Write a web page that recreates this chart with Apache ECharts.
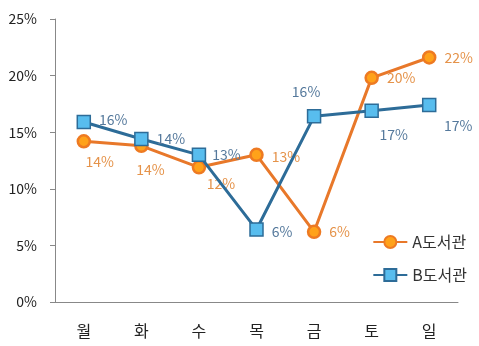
<!DOCTYPE html>
<html>
<head>
<meta charset="utf-8">
<script src="https://cdn.jsdelivr.net/npm/echarts@6/dist/echarts.min.js"></script>
<style>
  html, body { margin: 0; padding: 0; background: #fff; }
  #chart { width: 479px; height: 346px; }
</style>
</head>
<body>
<div id="chart"></div>
<script>
let days = ['월', '화', '수', '목', '금', '토', '일'];
let libraryA = [14.2, 13.8, 11.9, 13.0, 6.2, 19.8, 21.6];
let libraryB = [15.9, 14.4, 13.0, 6.4, 16.4, 16.9, 17.4];
let labelPosA = ['bottom', 'bottom', 'bottom', 'right', 'right', 'right', 'right'];
let labelPosB = ['right', 'right', 'right', 'right', 'top', 'bottom', 'bottom'];

const font = '"Noto Sans CJK KR", "Noto Sans", sans-serif';

function makeData(values, positions, offsets) {
    return values.map((v, i) => ({
        value: v,
        label: { position: positions[i], offset: offsets[i] }
    }));
}

let offA = [[16, -2], [9, 2], [22, -6], [0, 2], [0, 0], [0, 0], [0, 0]];
let offB = [[0, -2], [0, 0], [-2, 0], [0, 2], [-8, -2], [22, 2], [29, -2]];

let option = {
    animation: false,
    grid: { left: 55, right: 21, top: 19, bottom: 44 },
    legend: {
        orient: 'vertical',
        right: 7,
        top: 229,
        itemWidth: 34,
        itemHeight: 15,
        itemGap: 17,
        textStyle: { fontFamily: font, fontSize: 16, color: '#333' },
        data: ['A도서관', 'B도서관']
    },
    xAxis: {
        type: 'category',
        data: days,
        axisLine: { lineStyle: { color: '#888' } },
        axisTick: { alignWithLabel: false, length: 5, lineStyle: { color: '#888' } },
        axisLabel: { color: '#222', fontFamily: font, fontSize: 16, margin: 21 }
    },
    yAxis: {
        type: 'value',
        min: 0,
        max: 25,
        interval: 5,
        splitLine: { show: false },
        axisLine: { show: true, lineStyle: { color: '#888' } },
        axisTick: { show: true, length: 5, lineStyle: { color: '#888' } },
        axisLabel: { color: '#222', fontFamily: font, fontSize: 14, margin: 18, formatter: '{value}%' }
    },
    series: [
        {
            name: 'A도서관',
            type: 'line',
            data: makeData(libraryA, labelPosA, offA),
            symbol: 'circle',
            symbolSize: 12,
            lineStyle: { color: '#E8782A', width: 3 },
            itemStyle: { color: '#FFA21A', borderColor: '#EE7A22', borderWidth: 2.5 },
            label: {
                show: true,
                color: '#E5934A',
                fontFamily: font,
                fontSize: 14,
                distance: 8,
                formatter: p => Math.round(p.value) + '%'
            },
            z: 2
        },
        {
            name: 'B도서관',
            type: 'line',
            data: makeData(libraryB, labelPosB, offB),
            symbol: 'rect',
            symbolSize: 13,
            lineStyle: { color: '#2D6C98', width: 3 },
            itemStyle: { color: '#58BDEE', borderColor: '#2D6C98', borderWidth: 1.5 },
            label: {
                show: true,
                color: '#55799C',
                fontFamily: font,
                fontSize: 14,
                distance: 8,
                formatter: p => Math.round(p.value) + '%'
            },
            z: 3
        }
    ]
};

let chart = echarts.init(document.getElementById('chart'));
chart.setOption(option);
</script>
</body>
</html>
